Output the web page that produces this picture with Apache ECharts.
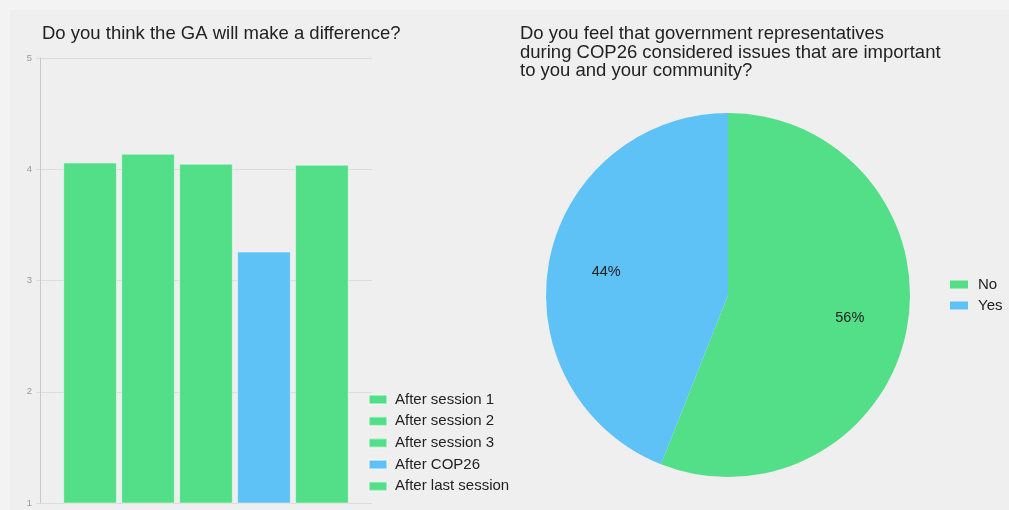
<!DOCTYPE html>
<html>
<head>
<meta charset="utf-8">
<script src="https://cdn.jsdelivr.net/npm/echarts@6/dist/echarts.min.js"></script>
<style>
html,body{margin:0;padding:0;background:#f3f3f3;}
#c{width:1009px;height:510px;}
</style>
</head>
<body>
<div id="c"></div>
<script>
// ---- data ----
const barTitle = 'Do you think the GA will make a difference?';
const barSeriesNames = ['After session 1', 'After session 2', 'After session 3', 'After COP26', 'After last session'];
const barValues = [4.06, 4.14, 4.05, 3.26, 4.04];
const barColors = ['#53df87', '#53df87', '#53df87', '#5fc2f6', '#53df87'];
const yTicks = [1, 2, 3, 4, 5];

const pieTitle = 'Do you feel that government representatives\nduring COP26 considered issues that are important\nto you and your community?';
const pieLabels = ['No', 'Yes'];
const pieValues = [56, 44];
const pieColors = ['#53df87', '#5fc2f6'];

// ---- chart ----
const chart = echarts.init(document.getElementById('c'));
const font = 'Arial, "Liberation Sans", sans-serif';

const barSeries = barSeriesNames.map((n, i) => ({
  name: n,
  type: 'bar',
  data: [barValues[i]],
  barGap: '8%',
  barCategoryGap: '14%',
  itemStyle: { color: barColors[i], borderColor: 'rgba(255,255,255,0.45)', borderWidth: 1 },
  silent: true
}));

const pieData = pieLabels.map((n, i) => ({ name: n, value: pieValues[i], itemStyle: { color: pieColors[i] } }));

chart.setOption({
  backgroundColor: '#f3f3f3',
  animation: false,
  textStyle: { fontFamily: font },
  graphic: [{ type: 'rect', left: 10, top: 10, shape: { width: 999, height: 500 }, style: { fill: '#efefef' }, z: -10 }],
  title: [
    { text: barTitle, left: 37, top: 19, textStyle: { fontFamily: font, fontSize: 18.5, fontWeight: 'normal', color: '#222' } },
    { text: pieTitle, left: 515, top: 20, textStyle: { fontFamily: font, fontSize: 18.5, fontWeight: 'normal', color: '#222', lineHeight: 18.5 } }
  ],
  legend: [
    { data: barSeriesNames, orient: 'vertical', left: 363, top: 387, icon: 'rect', itemWidth: 18, itemHeight: 9, itemGap: 6.7,
      textStyle: { fontFamily: font, fontSize: 15, color: '#222', padding: [0, 0, 0, 3] }, selectedMode: false },
    { data: pieLabels, orient: 'vertical', left: 945, top: 272, icon: 'rect', itemWidth: 18, itemHeight: 8, itemGap: 6,
      textStyle: { fontFamily: font, fontSize: 15, color: '#222', padding: [0, 0, 0, 5] }, selectedMode: false }
  ],
  grid: { left: 40, right: 637, top: 58, bottom: 7 },
  xAxis: { type: 'category', data: [''], axisLine: { show: false }, axisTick: { show: false }, axisLabel: { show: false } },
  yAxis: {
    type: 'value', min: yTicks[0], max: yTicks[yTicks.length - 1], interval: 1,
    axisLine: { show: true, lineStyle: { color: '#c8c8c8' } },
    axisTick: { show: true, length: 4, lineStyle: { color: '#ddd' } },
    axisLabel: { fontSize: 9.5, color: '#999', margin: 8, fontFamily: font },
    splitLine: { lineStyle: { color: '#dcdcdc' } }
  },
  series: barSeries.concat([
    { name: 'pie', type: 'pie', center: [728, 295], radius: [0, 182], startAngle: 90, clockwise: true,
      data: pieData, label: { show: false }, labelLine: { show: false }, silent: true },
    { name: 'pieLabels', type: 'pie', center: [728, 295], radius: [60, 182], startAngle: 90, clockwise: true,
      data: pieLabels.map((n, i) => ({ name: n, value: pieValues[i] })),
      itemStyle: { color: 'rgba(0,0,0,0)' }, silent: true, legendHoverLink: false,
      label: { show: true, position: 'inner', formatter: '{d}%', fontSize: 14.5, color: '#222', fontFamily: font },
      labelLine: { show: false }, z: 5 }
  ])
});
</script>
</body>
</html>
